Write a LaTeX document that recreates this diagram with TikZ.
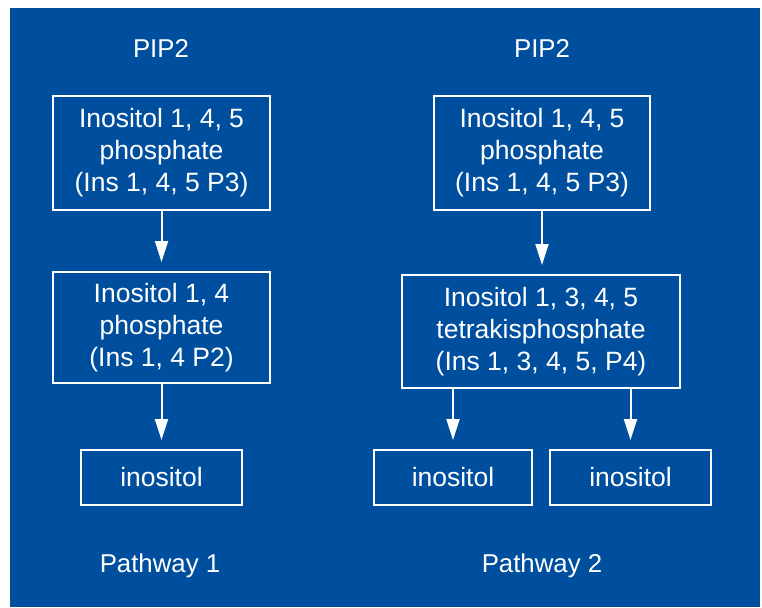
\documentclass[tikz,border=0pt]{standalone}
\usepackage{fontspec}
\setmainfont{Liberation Sans}
\usepackage{xcolor}
\usetikzlibrary{arrows.meta}

\definecolor{panelblue}{RGB}{0,79,159}

\tikzset{
  stepbox/.style={rectangle, draw=white, line width=2pt, text=white, align=center,
                  font=\fontsize{26.5}{32}\selectfont, inner sep=0pt},
  caption/.style={text=white, font=\fontsize{25.8}{31.5}\selectfont, anchor=base},
  arr/.style={draw=white, line width=2pt, -{Triangle[width=13pt,length=21pt]}, shorten >=9pt}
}

\begin{document}
\begin{tikzpicture}[x=1pt, y=-1pt]

\useasboundingbox (0,0) rectangle (762,607);
\fill[white] (0,0) rectangle (762,607);
\fill[panelblue] (10,8) rectangle (760,607);

% pathway 1
\node[caption] (pip1) at (161,58) {PIP2};
\node[stepbox, minimum width=217pt, minimum height=114pt] (ip3a) at (161.5,153)
  {Inositol 1, 4, 5\\phosphate\\(Ins 1, 4, 5 P3)};
\node[stepbox, minimum width=217pt, minimum height=111pt] (ip2) at (161.5,327.5)
  {Inositol 1, 4\\phosphate\\(Ins 1, 4 P2)};
\node[stepbox, minimum width=161pt, minimum height=55pt] (ino1) at (161.5,477.5) {inositol};
\node[caption] (path1) at (160,572) {Pathway 1};

% pathway 2
\node[caption] (pip2) at (542,58) {PIP2};
\node[stepbox, minimum width=216pt, minimum height=114pt] (ip3b) at (542,153)
  {Inositol 1, 4, 5\\phosphate\\(Ins 1, 4, 5 P3)};
\node[stepbox, minimum width=278pt, minimum height=113pt] (ip4) at (541,331.5)
  {Inositol 1, 3, 4, 5\\tetrakisphosphate\\(Ins 1, 3, 4, 5, P4)};
\node[stepbox, minimum width=158pt, minimum height=55pt] (ino2) at (453,477.5) {inositol};
\node[stepbox, minimum width=161pt, minimum height=55pt] (ino3) at (630.5,477.5) {inositol};
\node[caption] (path2) at (542,572) {Pathway 2};

\draw[arr] (ip3a) -- (ip2);
\draw[arr] (ip2) -- (ino1);
\draw[arr] (ip3b) -- (ip3b |- ip4.north);
\draw[arr] (ip4.south -| ino2) -- (ino2);
\draw[arr] (ip4.south -| ino3) -- (ino3);
\end{tikzpicture}
\end{document}
